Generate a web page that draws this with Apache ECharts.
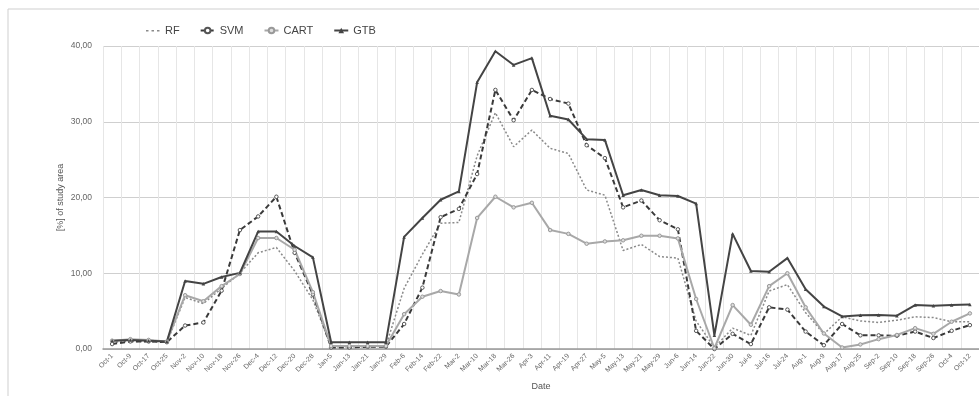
<!DOCTYPE html>
<html><head><meta charset="utf-8">
<script src="https://cdn.jsdelivr.net/npm/echarts@6/dist/echarts.min.js"></script>
<style>html,body{margin:0;padding:0;background:#fff}#c{width:979px;height:396px}</style>
</head><body><div id="c"></div>
<script>
var categories = ["Oct-1","Oct-9","Oct-17","Oct-25","Nov-2","Nov-10","Nov-18","Nov-26","Dec-4","Dec-12","Dec-20","Dec-28","Jan-5","Jan-13","Jan-21","Jan-29","Feb-6","Feb-14","Feb-22","Mar-2","Mar-10","Mar-18","Mar-26","Apr-3","Apr-11","Apr-19","Apr-27","May-5","May-13","May-21","May-29","Jun-6","Jun-14","Jun-22","Jun-30","Jul-8","Jul-16","Jul-24","Aug-1","Aug-9","Aug-17","Aug-25","Sep-2","Sep-10","Sep-18","Sep-26","Oct-4","Oct-12"];
var rf   = [0.9,1.0,1.0,0.9,6.8,6.0,8.0,10.0,12.7,13.4,10.3,6.5,0.3,0.3,0.3,0.4,8.0,12.5,16.6,16.7,25.5,31.2,26.7,28.9,26.5,25.8,21.0,20.3,13.0,13.8,12.2,12.0,3.7,0.2,2.75,1.8,7.65,8.5,4.8,2.0,4.25,3.7,3.5,3.8,4.25,4.15,3.6,3.6];
var svm  = [0.65,1.0,1.0,0.9,3.1,3.5,7.7,15.7,17.5,20.1,12.7,7.2,0.2,0.2,0.3,0.3,3.3,8.1,17.4,18.5,23.1,34.2,30.2,34.2,33.0,32.4,26.9,25.2,18.7,19.6,17.0,15.8,2.4,0.0,2.0,0.65,5.5,5.2,2.3,0.5,3.3,1.8,1.8,1.75,2.3,1.45,2.4,3.15];
var cart = [1.1,1.3,1.2,1.0,7.1,6.3,8.3,9.9,14.65,14.65,13.1,7.5,0.4,0.4,0.4,0.4,4.6,6.9,7.65,7.2,17.3,20.1,18.7,19.3,15.7,15.2,13.9,14.2,14.35,14.95,14.95,14.6,6.6,0.1,5.8,3.2,8.3,10.0,5.5,2.05,0.2,0.6,1.3,1.85,2.75,2.0,3.6,4.7];
var gtb  = [1.1,1.2,1.1,1.0,8.97,8.6,9.5,10.05,15.5,15.5,13.6,12.1,0.9,0.9,0.9,0.9,14.8,17.3,19.7,20.8,35.2,39.3,37.5,38.4,30.8,30.3,27.7,27.6,20.3,21.0,20.3,20.2,19.2,1.8,15.2,10.3,10.2,12.0,7.9,5.6,4.3,4.45,4.5,4.4,5.8,5.7,5.8,5.86];
var yTicks = [0,10,20,30,40];

var chart = echarts.init(document.getElementById('c'), null, {renderer:'canvas'});
var font = 'Liberation Sans, Arial, sans-serif';
chart.setOption({
  animation:false,
  backgroundColor:'#fff',
  graphic:[{type:'rect',shape:{x:8,y:9,width:990,height:400},style:{fill:'none',stroke:'#cfcfcf',lineWidth:1},silent:true}],
  legend:{
    top:20,left:141,itemGap:20,itemWidth:14,itemHeight:7,
    textStyle:{fontFamily:font,fontSize:11,color:'#444'},
    data:[
      {name:'RF',icon:'path://M0,0L0.01,0L0.01,0.01ZM0,3h2.5v1.5h-2.5zM5.5,3h2.5v1.5h-2.5zM11,3h2.5v1.5h-2.5zM13.99,6.99L14,6.99L14,7Z',itemStyle:{color:'#8a8a8a'}},
      'SVM','CART','GTB'
    ]
  },
  grid:{left:103,right:0,top:46,bottom:44,containLabel:false},
  xAxis:{
    type:'category',data:categories,boundaryGap:true,
    name:'Date',nameLocation:'middle',nameGap:33,
    nameTextStyle:{fontFamily:font,fontSize:9,color:'#555'},
    axisLine:{lineStyle:{color:'#999',width:1.5}},
    axisTick:{show:false},
    axisLabel:{interval:0,rotate:45,fontSize:7,color:'#666',fontFamily:font,margin:6},
    splitLine:{show:true,interval:0,lineStyle:{color:'#e6e6e6',width:1}}
  },
  yAxis:{
    type:'value',min:0,max:40,interval:10,
    name:'[%] of study area',nameLocation:'middle',nameGap:38,nameRotate:90,nameMoveOverlap:false,
    nameTextStyle:{fontFamily:font,fontSize:9,color:'#555'},
    axisLine:{show:false},axisTick:{show:false},
    axisLabel:{fontSize:8.5,color:'#666',fontFamily:font,margin:11,
      formatter:function(v){return v.toFixed(2).replace('.',',');}},
    splitLine:{lineStyle:{color:'#cfcfcf',width:1}}
  },
  series:[
    {name:'RF',type:'line',data:rf,symbol:'none',
     lineStyle:{color:'#8a8a8a',width:1.5,type:[2,2]},itemStyle:{color:'#8a8a8a'}},
    {name:'SVM',type:'line',data:svm,symbol:'circle',symbolSize:3.5,
     lineStyle:{color:'#3a3a3a',width:2,type:[5,3]},
     itemStyle:{color:'#fff',borderColor:'#555',borderWidth:1}},
    {name:'CART',type:'line',data:cart,symbol:'circle',symbolSize:3.5,
     lineStyle:{color:'#a8a8a8',width:2},
     itemStyle:{color:'#ddd',borderColor:'#999',borderWidth:1}},
    {name:'GTB',type:'line',data:gtb,symbol:'triangle',symbolSize:3.5,
     lineStyle:{color:'#444',width:2},
     itemStyle:{color:'#444'}}
  ]
});
</script></body></html>
